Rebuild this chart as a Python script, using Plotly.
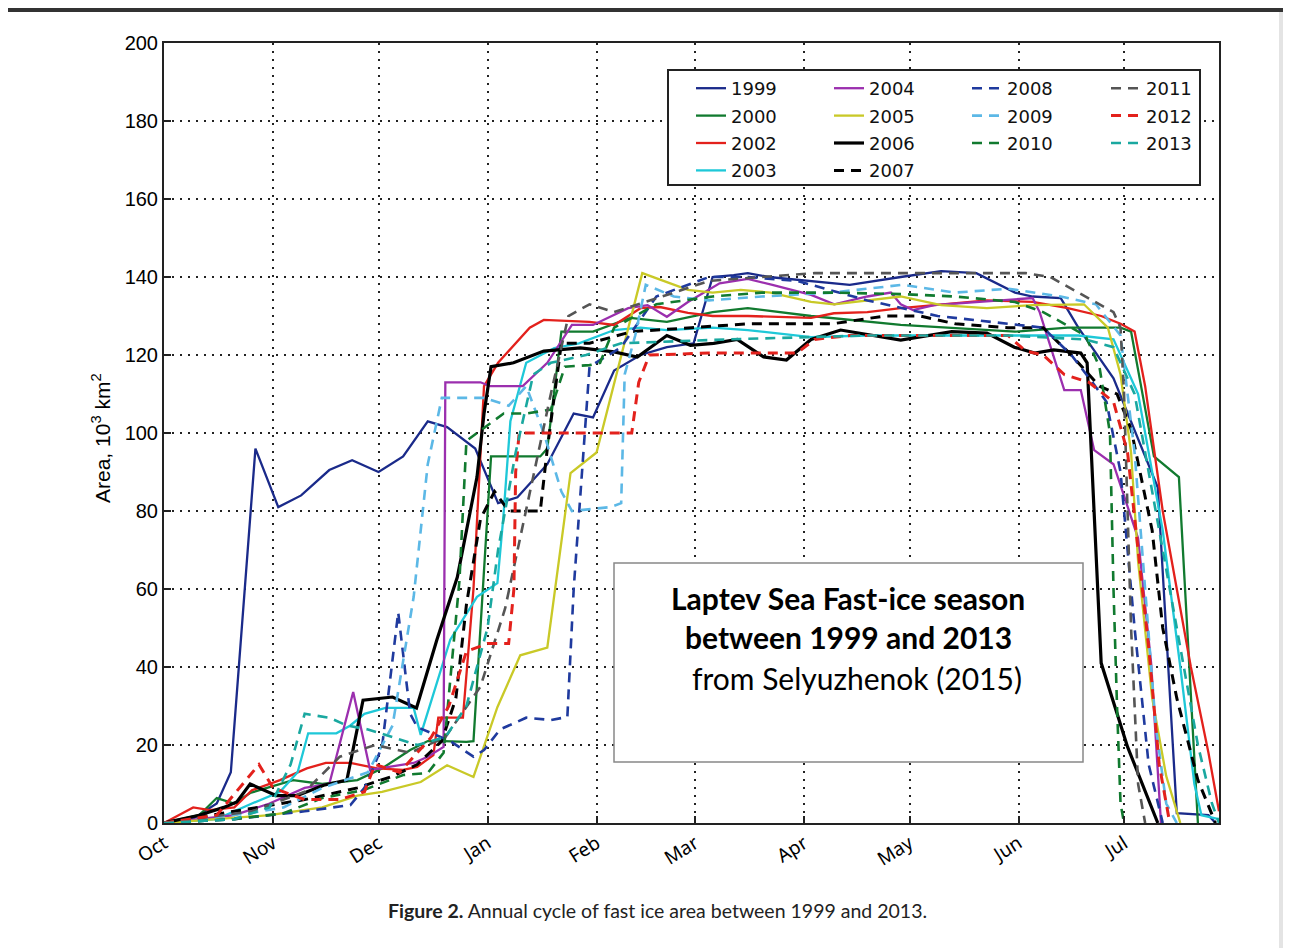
import plotly.graph_objects as go

# ---------------- data (day since 1 Oct, area in 10^3 km^2) ----------------
month_days = [0, 31, 61, 92, 123, 151, 182, 212, 243, 273]
month_labels = ["Oct", "Nov", "Dec", "Jan", "Feb", "Mar", "Apr", "May", "Jun", "Jul"]

d1999 = [0, 8, 15, 19, 26, 32.5, 39, 47, 53.5, 61, 68, 75, 80.5, 88.5, 95, 100.5, 109, 116.5, 122, 128, 135.5, 143, 150.6, 156, 162, 166, 172, 184, 195, 209.5, 221, 231, 242, 247, 255, 260, 266.5, 270, 282.6, 288, 297, 299]
a1999 = [0, 1, 5, 13, 96, 81, 84, 90.5, 93, 90, 94, 103, 101.5, 96, 82, 83.5, 92, 105, 104, 116, 120, 122, 123, 140, 140.5, 141, 140, 139, 138, 140, 141.5, 141, 136, 135, 134.6, 127, 118.7, 114, 86, 2.5, 2, 0]

d2000 = [0, 10, 15, 20, 24.5, 36.7, 45, 55, 62, 70, 75, 79.5, 86, 88, 93, 107, 109, 113, 122, 132.6, 143, 156, 166, 175, 184, 209.5, 224, 242, 257, 272, 275, 281.5, 288.6, 294]
a2000 = [0, 2, 6.4, 5, 7.7, 11, 10, 11, 14, 18.7, 21, 21, 20.8, 21, 94, 94, 96, 126, 126, 129.5, 128.5, 131, 132, 131, 130, 127.7, 127, 126, 127, 127, 126, 94, 88.7, 0]

d2002 = [0, 8.3, 13, 20, 25, 33, 40.6, 46, 53, 60.6, 68, 72, 76.6, 78, 85, 88, 91, 95, 104, 108, 121, 128, 135.5, 141, 149, 156, 166, 184, 190.5, 200, 209.5, 221, 234, 247, 257, 266.5, 272, 276, 279, 284, 292, 297, 300]
a2002 = [0, 4, 3.3, 4, 8.4, 11, 14, 15.4, 15.4, 14, 13.6, 14.4, 17.4, 27, 27, 60, 112, 118, 127, 129, 128.5, 127.7, 132, 132.3, 130.8, 130, 130, 129.5, 130.7, 131, 132, 133, 134, 133.6, 132, 130, 128, 126, 112, 80, 40, 18, 3]

d2003 = [0, 15, 25, 33, 38, 41, 49, 53, 57, 63, 71, 73, 81.4, 89, 94.8, 96.5, 98.5, 103, 111, 118, 128, 135.5, 143, 156, 166, 184, 200, 230, 260, 270, 277, 284, 289, 293, 295, 300]
a2003 = [0, 1, 5, 8, 13, 23, 23, 25, 28, 29.5, 29.5, 22.6, 47, 58, 61.5, 78.5, 103, 118, 121.8, 123, 126.4, 127, 126.4, 127, 126.4, 124.6, 125, 125, 125, 124, 110, 75, 40, 10, 2, 1]

d2004 = [0, 20, 30, 40, 47, 53.8, 58.6, 71, 75, 79.5, 80, 90, 92.8, 102, 109, 116, 122, 132, 137.5, 143, 149, 158, 166, 173, 184, 190.6, 200, 206.7, 209.5, 213, 219, 247, 249, 256, 260.7, 264.5, 270, 277, 280.7, 282.6, 283.5]
a2004 = [0, 2, 5, 9, 10, 33.6, 13.6, 15.4, 17, 19.5, 113, 113, 112, 112, 118, 127.7, 127.7, 132, 132.8, 129.8, 133.6, 138.4, 139.5, 138, 135.4, 133, 135, 136, 133, 131.5, 132.8, 134.6, 131, 111, 111, 95.6, 92, 73, 41, 15, 0]

d2005 = [0, 30, 45, 55, 62, 73, 80.5, 88, 94.8, 101.3, 109, 115.6, 123, 136, 149, 156, 164, 172.5, 184, 190.5, 209.5, 221, 234, 247, 261.6, 268.4, 272, 275, 277, 281, 285, 289]
a2005 = [0, 2, 4, 7, 8, 10.5, 14.8, 11.8, 29.7, 43, 45, 89.7, 95, 141, 136.7, 136, 136.7, 136, 133.6, 133, 135, 132.8, 132, 132.8, 133, 127, 115, 95, 67, 32, 12, 0]

d2006 = [0, 10, 17, 20.7, 24.5, 32, 37.8, 45.4, 52, 56.6, 65, 71.8, 77.6, 83.4, 89, 91, 93, 99.4, 108, 118.4, 128, 134.6, 143, 149.7, 156.3, 163, 170.5, 177, 184, 192.4, 209.5, 224, 234, 241.8, 247.6, 253, 260.7, 262.5, 266.5, 274, 282.6]
a2006 = [0, 2, 4, 5.4, 10, 7, 7, 9.7, 11, 31.5, 32.3, 29.5, 47, 63, 88.7, 105, 117, 118, 121, 121.8, 120.8, 119.5, 125, 122.5, 123, 124, 119.5, 118.7, 124, 126.4, 123.8, 126, 125.6, 122, 120.5, 121.3, 120.5, 118, 41, 19.5, 0]

d2007 = [0, 20, 40, 55, 65, 72, 79, 83, 86, 90, 94, 98, 107, 109, 113, 121, 133, 150, 166, 190, 205, 215, 225, 240, 250, 258, 266, 271, 275, 281, 284, 288, 294, 299]
a2007 = [0, 3, 6, 9, 12, 15, 21, 32, 56, 78, 85, 80, 80, 96, 123, 123, 126, 127, 128, 128, 130, 130, 128, 127, 127, 120, 112, 110, 101, 75, 50, 32, 11, 0]

d2008 = [0, 20, 40, 53, 57, 62, 66.6, 70, 72, 81.4, 88, 91, 95.6, 103, 110, 114.7, 116.5, 121, 130, 140, 155, 166, 180, 200, 220, 235, 250, 258, 264, 268, 272, 276, 280, 284]
a2008 = [0, 1, 3, 4.6, 9, 19.5, 54, 28, 24.6, 21, 17, 18.7, 24, 27, 26.4, 27.2, 60, 117, 122, 135, 140, 140, 139, 134, 130, 128.5, 127, 120, 113, 108, 90, 50, 15, 0]

d2009 = [0, 25, 34, 45, 58, 65, 71, 75, 79, 91, 98, 103, 108, 113, 116, 127, 130, 131, 134, 137, 145, 155, 170, 190, 210, 225, 240, 255, 265, 272, 276, 279, 282, 285, 288]
a2009 = [0, 2.6, 4, 9, 13, 25, 58, 92, 109, 109, 107, 112, 100, 85, 80, 81, 82, 115, 125, 138, 135, 134, 135, 136, 138, 136, 137, 135, 133, 125, 95, 60, 25, 5, 0]

d2010 = [0, 20, 34, 45, 56.6, 68, 75, 79.5, 81.4, 84, 86, 96.6, 103, 110, 114, 121, 124, 128, 140, 156, 170, 190, 210, 225, 242, 250, 262, 266, 269, 270, 271, 272, 273]
a2010 = [0, 1, 2.5, 6.4, 8.4, 12.3, 12.8, 18, 36.7, 62, 98, 105, 105, 106, 117, 117.4, 118, 127, 133, 135, 136, 136, 135.6, 135, 133.6, 131, 125, 117, 100, 60, 30, 5, 0]

d2011 = [0, 25, 40, 50, 60, 70, 80, 90, 97, 104, 110, 115, 121, 128, 135, 145, 155, 170, 185, 200, 215, 230, 245, 252, 258, 264, 270, 272, 273, 275, 277, 279]
a2011 = [0, 3, 8, 17, 20, 18, 22, 35, 55, 85, 110, 130, 133, 131, 133, 136, 139, 140, 141, 141, 141, 141, 141, 140, 137, 134, 131, 127, 110, 50, 10, 0]

d2012 = [0, 15, 27, 31, 40, 50, 57, 60, 67, 76, 81, 86, 92, 98, 99.5, 100, 101, 133, 135, 138, 155, 180, 185, 195, 240, 245, 250, 256, 263, 270, 274, 277, 280, 283, 286]
a2012 = [0, 2, 15, 9, 6, 6, 8, 15, 13, 22, 30, 44, 46, 46, 60, 90, 100, 100, 113, 120, 120.5, 120.5, 124, 125, 125, 121, 120, 115, 113, 108, 95, 70, 45, 15, 0]

d2013 = [0, 20, 30, 36, 40, 47, 52, 58, 65, 72, 80, 86, 92, 95, 100, 105, 110, 120, 130, 160, 200, 240, 262, 270, 276, 282, 288, 294, 298, 300]
a2013 = [0, 1, 4, 15, 28, 27, 25, 24, 22, 20, 22, 30, 50, 70, 95, 115, 118, 120, 123, 124, 125, 125, 124, 122, 110, 80, 50, 20, 5, 0]

# ---------------- styles ----------------
series = [
    ("1999", d1999, a1999, "#1a2a8a", "solid", 2.3, "legend", 1),
    ("2000", d2000, a2000, "#117a2f", "solid", 2.3, "legend", 2),
    ("2002", d2002, a2002, "#e3211c", "solid", 2.3, "legend", 3),
    ("2003", d2003, a2003, "#1ec8d8", "solid", 2.3, "legend", 4),
    ("2004", d2004, a2004, "#9b2fae", "solid", 2.3, "legend2", 5),
    ("2005", d2005, a2005, "#c9c927", "solid", 2.3, "legend2", 6),
    ("2006", d2006, a2006, "#000000", "solid", 3.2, "legend2", 7),
    ("2007", d2007, a2007, "#000000", "10px,7px", 3.0, "legend2", 8),
    ("2008", d2008, a2008, "#1f3a9e", "10px,7px", 2.6, "legend3", 9),
    ("2009", d2009, a2009, "#5cb8e6", "10px,7px", 2.6, "legend3", 10),
    ("2010", d2010, a2010, "#117a2f", "10px,7px", 2.6, "legend3", 11),
    ("2011", d2011, a2011, "#555555", "10px,7px", 2.6, "legend4", 12),
    ("2012", d2012, a2012, "#e3211c", "10px,7px", 3.0, "legend4", 13),
    ("2013", d2013, a2013, "#1aa8a0", "10px,7px", 2.6, "legend4", 14),
]

fig = go.Figure()
for name, xs, ys, col, dash, w, leg, rank in series:
    fig.add_trace(go.Scatter(
        x=xs, y=ys, mode="lines", name=name,
        line=dict(color=col, width=w, dash=dash),
        legend=leg, legendgroup=name, legendrank=rank,
        hoverinfo="skip",
    ))

# page offset of the browser (body margin)
OFF = 8
W, H = 1291 - OFF, 948 - OFF
L, T = 164 - OFF, 43 - OFF
pw, ph = 1055, 780
R, B = W - L - pw, H - T - ph

def px(x):
    return (x - OFF - L) / pw

def py(y):
    return (T + ph - (y - OFF)) / ph

legend_common = dict(
    bgcolor="rgba(0,0,0,0)", borderwidth=0,
    font=dict(family="DejaVu Sans", size=18, color="#111"),
    yanchor="top", xanchor="left", y=py(70),
    tracegroupgap=1, traceorder="grouped", itemwidth=30,
)
lx = [691, 829, 967, 1106]

fig.update_layout(
    width=W, height=H,
    margin=dict(l=L, r=R, t=T, b=B),
    paper_bgcolor="white", plot_bgcolor="white",
    showlegend=True,
    legend=dict(x=px(lx[0]), **legend_common),
    legend2=dict(x=px(lx[1]), **legend_common),
    legend3=dict(x=px(lx[2]), **legend_common),
    legend4=dict(x=px(lx[3]), **legend_common),
    xaxis=dict(
        range=[0, 300], tickvals=month_days, ticktext=month_labels,
        tickangle=-32, tickfont=dict(family="Noto Sans", size=19, color="black"),
        showline=True, linecolor="#222", linewidth=2, mirror=True,
        ticks="inside", ticklen=7, tickwidth=1.5, tickcolor="#222",
        showgrid=True, gridcolor="#222", gridwidth=2, griddash="2px,6px",
        zeroline=False,
    ),
    yaxis=dict(
        range=[0, 200], dtick=20,
        tickfont=dict(family="Liberation Sans", size=20, color="black"),
        showline=True, linecolor="#222", linewidth=2, mirror=True,
        ticks="inside", ticklen=7, tickwidth=1.5, tickcolor="#222",
        showgrid=True, gridcolor="#222", gridwidth=2, griddash="2px,6px",
        zeroline=False,
    ),
)

shapes = [
    # legend frame
    dict(type="rect", xref="paper", yref="paper", x0=px(668), x1=px(1200), y0=py(185), y1=py(70),
         line=dict(color="#222", width=2), fillcolor="white", layer="above"),
    # text box
    dict(type="rect", xref="paper", yref="paper", x0=px(614), x1=px(1083), y0=py(762), y1=py(563),
         line=dict(color="#888", width=1.5), fillcolor="white", layer="above"),
    # top border of the picture
    dict(type="rect", xref="paper", yref="paper", x0=px(OFF), x1=px(1291), y0=py(12), y1=py(OFF),
         line=dict(width=0), fillcolor="#333", layer="above"),
    # faint right edge shading
    dict(type="rect", xref="paper", yref="paper", x0=px(1279), x1=px(1291), y0=py(948), y1=py(12),
         line=dict(width=0), fillcolor="#e4e4e4", layer="below"),
]
fig.update_layout(shapes=shapes)

ann = [
    dict(text="<b>Laptev Sea Fast-ice season</b>", x=px(848), y=py(598)),
    dict(text="<b>between 1999 and 2013</b>", x=px(848), y=py(637)),
    dict(text="from Selyuzhenok (2015)", x=px(857), y=py(678)),
]
for a in ann:
    fig.add_annotation(xref="paper", yref="paper", showarrow=False,
                       xanchor="center", yanchor="middle",
                       font=dict(family="Lato", size=30, color="black"), **a)

fig.add_annotation(xref="paper", yref="paper", x=px(101), y=py(438), showarrow=False,
                   text="Area, 10<sup>3</sup> km<sup>2</sup>", textangle=-90,
                   font=dict(family="Liberation Sans", size=21, color="black"),
                   xanchor="center", yanchor="middle")

fig.add_annotation(xref="paper", yref="paper", x=px(657), y=py(910), showarrow=False,
                   text="<b>Figure 2.</b> Annual cycle of fast ice area between 1999 and 2013.",
                   font=dict(family="Lato", size=19.5, color="#222"),
                   xanchor="center", yanchor="middle")

fig.write_html("out.html")
